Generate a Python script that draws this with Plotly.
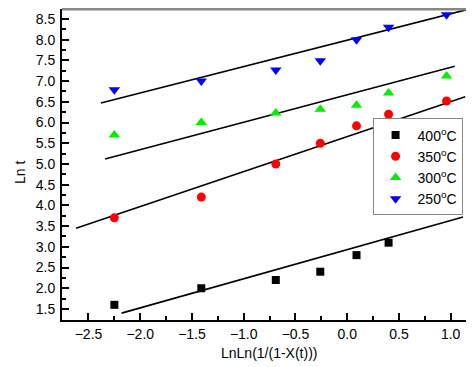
import plotly.graph_objects as go

x_vals = [-2.25, -1.41, -0.69, -0.26, 0.09, 0.40, 0.96]
series_names = ["400<sup>o</sup>C", "350<sup>o</sup>C", "300<sup>o</sup>C", "250<sup>o</sup>C"]
y_400 = [1.60, 2.00, 2.20, 2.40, 2.80, 3.10]
y_350 = [3.70, 4.20, 5.00, 5.50, 5.92, 6.20, 6.52]
y_300 = [5.70, 6.00, 6.23, 6.32, 6.42, 6.71, 7.12]
y_250 = [6.79, 7.00, 7.27, 7.49, 8.00, 8.30, 8.60]

# straight fitted lines: (x start, x end), (y start, y end)
line_400_x = [-2.18, 1.12]
line_400_y = [1.40, 3.72]
line_350_x = [-2.62, 1.14]
line_350_y = [3.45, 6.62]
line_300_x = [-2.34, 1.04]
line_300_y = [5.12, 7.36]
line_250_x = [-2.38, 1.15]
line_250_y = [6.47, 8.72]

x_title = "LnLn(1/(1-X(t)))"
y_title = "Ln t"

FONT = "Liberation Sans, Arial"

fig = go.Figure()
for lx, ly in [(line_400_x, line_400_y), (line_350_x, line_350_y),
               (line_300_x, line_300_y), (line_250_x, line_250_y)]:
    fig.add_trace(go.Scatter(x=lx, y=ly, mode="lines", line=dict(color="black", width=1.6),
                             showlegend=False, hoverinfo="skip"))

styles = [
    ("square", "black", 8, y_400),
    ("circle", "#ff0000", 9, y_350),
    ("triangle-up", "#00ee00", 10, y_300),
    ("triangle-down", "#0000ff", 10, y_250),
]
for name, (sym, col, sz, ys) in zip(series_names, styles):
    fig.add_trace(go.Scatter(x=x_vals[:len(ys)], y=ys, mode="markers", name=name,
                             marker=dict(symbol=sym, color=col, size=sz, line=dict(width=0))))

axis_common = dict(showgrid=False, zeroline=False, showline=True, linecolor="black", linewidth=2,
                   ticks="inside", tickcolor="black", tickwidth=1.5, ticklen=7,
                   tickfont=dict(family=FONT, size=14, color="black"))
fig.update_layout(
    width=474, height=367,
    margin=dict(l=54, r=7, t=1, b=55),
    paper_bgcolor="white", plot_bgcolor="white",
    font=dict(family=FONT, size=14, color="black"),
    xaxis=dict(range=[-2.756, 1.235], dtick=0.5, tick0=0, tickformat=".1f",
               minor=dict(ticks="inside", ticklen=4, tickcolor="black", dtick=0.25, tickwidth=1.5),
               **axis_common),
    yaxis=dict(range=[1.234, 8.74], dtick=0.5, tick0=0, tickformat=".1f", ticklabelstandoff=2,
               minor=dict(ticks="inside", ticklen=4, tickcolor="black", dtick=0.25, tickwidth=1.5),
               **axis_common),
    legend=dict(x=0.752, y=0.648, xanchor="left", yanchor="top", bgcolor="white",
                bordercolor="#888888", borderwidth=1, font=dict(size=14), itemwidth=34),
    showlegend=True,
    annotations=[
        dict(text=x_title, xref="paper", yref="paper", x=(261 - 54) / 413, y=-(345 - 312) / 311,
             xanchor="center", yanchor="middle", showarrow=False, font=dict(size=14)),
        dict(text=y_title, xref="paper", yref="paper", x=-(54 - 12) / 413, y=1 - (165 - 1) / 311,
             xanchor="center", yanchor="middle", showarrow=False, textangle=-90, font=dict(size=14)),
    ],
)
# right and top frame
fig.add_shape(type="line", xref="paper", yref="paper", x0=1, x1=1, y0=0, y1=1,
              line=dict(color="black", width=2))
fig.add_shape(type="line", xref="paper", yref="paper", x0=0, x1=1, y0=1, y1=1,
              line=dict(color="#888888", width=3))
fig.write_html("out.html")
